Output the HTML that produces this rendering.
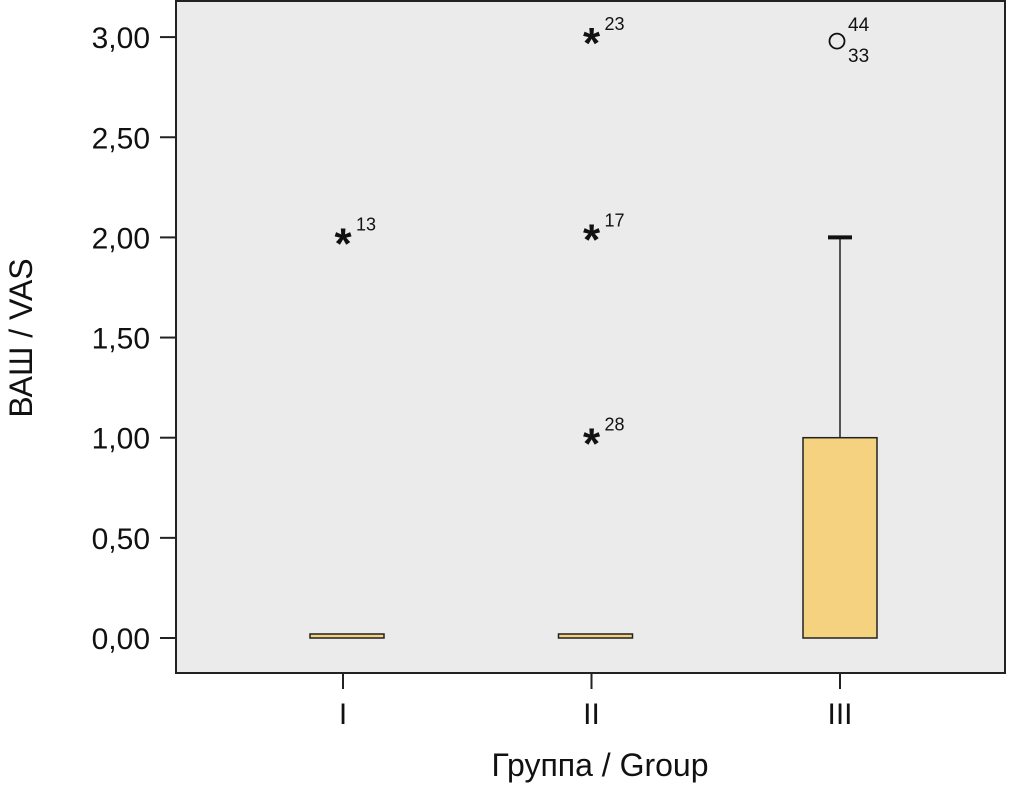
<!DOCTYPE html>
<html><head><meta charset="utf-8"><style>body{margin:0;background:#fff}svg{display:block;font-family:"Liberation Sans","DejaVu Sans",sans-serif}</style></head>
<body>
<svg id="c" width="1009" height="785">
<rect x="176" y="1" width="829" height="672" fill="#ebebeb" stroke="#222" stroke-width="2"/>
<g id="g"></g>
<text x="600" y="776" font-size="32" text-anchor="middle" fill="#111">Группа / Group</text>
<text transform="translate(32,338) rotate(-90)" font-size="32" text-anchor="middle" fill="#111">ВАШ / VAS</text>
</svg>
<script>
const categories=["I","II","III"];
const q1=[0,0,0];
const q3=[0.02,0.02,1.0];
const medians=[0,0,0];
const whiskerLow=[0,0,0];
const whiskerHigh=[0,0,2.0];
const outlierGroup=[0,1,1,1,2];
const outlierValue=[2.0,3.0,2.02,1.0,2.98];
const outlierLabel=["13","23","17","28","44"];
const outlierType=["star","star","star","star","circle"];
const yTicks=[0,0.5,1,1.5,2,2.5,3];
const yTickLabels=["0,00","0,50","1,00","1,50","2,00","2,50","3,00"];
const NS="http://www.w3.org/2000/svg",g=document.getElementById('g');
const y=v=>638-v*200.3, x=i=>343+i*248.5;
function mk(t,a,txt){const e=document.createElementNS(NS,t);for(const k in a)e.setAttribute(k,a[k]);if(txt!==undefined)e.textContent=txt;g.appendChild(e);return e;}
yTicks.forEach((v,i)=>{
 let e=mk('line',{x1:160,x2:176,y1:y(v),y2:y(v),stroke:'#222','stroke-width':2});
 
 
 e=mk('text',{x:150,y:y(v)+11,'font-size':30,'text-anchor':'end',fill:'#111'},yTickLabels[i]);
 
 
});
categories.forEach((c,i)=>{
 let e=mk('line',{x1:x(i),x2:x(i),y1:673,y2:689,stroke:'#222','stroke-width':2});
 
 
 e=mk('text',{x:x(i),y:724,'font-size':30,'text-anchor':'middle',fill:'#111'},c);
 
 
 if(whiskerHigh[i]>q3[i]){
  e=mk('line',{x1:x(i),x2:x(i),y1:y(q3[i]),y2:y(whiskerHigh[i]),stroke:'#222','stroke-width':1.5});
  
  
  e=mk('line',{x1:x(i)-12,x2:x(i)+12,y1:y(whiskerHigh[i]),y2:y(whiskerHigh[i]),stroke:'#111','stroke-width':4});
  
  
 }
 const off=i<2?4:0;
 e=mk('rect',{x:x(i)-37+off,y:y(q3[i]),width:74,height:Math.max(1,y(q1[i])-y(q3[i])),fill:'#f5d27f',stroke:'#222','stroke-width':1.5});
 
 
});
outlierValue.forEach((v,k)=>{
 const cx=x(outlierGroup[k]),cy=y(v);let e;
 if(outlierType[k]=='star'){
  e=mk('text',{x:cx,y:cy+21,'font-size':44,'font-weight':'bold','text-anchor':'middle',fill:'#111'},'*');
  
  
  e=mk('text',{x:cx+13,y:cy-7,'font-size':18,fill:'#111'},outlierLabel[k]);
  
  
 }else{
  e=mk('circle',{cx:cx-3,cy:cy,r:7.5,fill:'none',stroke:'#111','stroke-width':1.8});
  
  
  e=mk('text',{x:cx+8,y:cy-10,'font-size':19,fill:'#111'},outlierLabel[k]);
  
  
  e=mk('text',{x:cx+8,y:cy+21,'font-size':19,fill:'#111'},'33');
  
  
 }
});
</script>
</body></html>
